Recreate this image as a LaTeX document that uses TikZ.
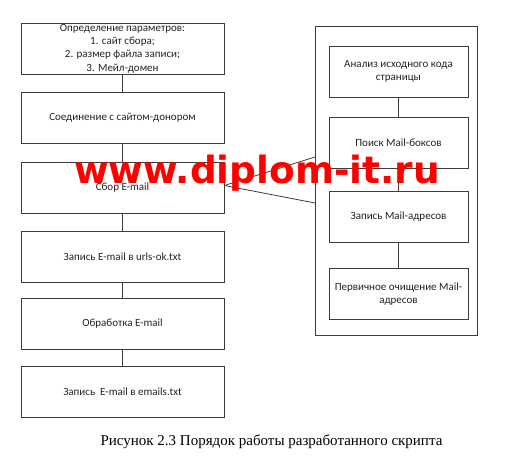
\documentclass[tikz,border=0pt]{standalone}
\usepackage{fontspec}
\setmainfont{Carlito}
\newfontfamily\capfont{Liberation Serif}
\newfontfamily\markfont{DejaVu Sans}
\usetikzlibrary{positioning}
\definecolor{LineGray}{RGB}{60,60,60}
\definecolor{TextGray}{RGB}{35,35,35}
\definecolor{MarkRed}{RGB}{255,0,0}

\begin{document}
\begin{tikzpicture}[x=1pt,y=-1pt,
    StepBox/.style={draw=LineGray,line width=0.8pt,minimum width=203pt,minimum height=51pt,
      inner sep=1pt,align=center,text=TextGray,font=\fontsize{11}{13.3}\selectfont},
    SubBox/.style={StepBox,minimum width=139pt},
    Link/.style={draw=LineGray,line width=0.8pt}]
  \useasboundingbox (0,0) rectangle (509,460);
          % main steps
          \node[StepBox,inner ysep=0pt] (params) at (122.5,48.5) {Определение параметров:\\1. сайт сбора;\\2. размер файла записи;\\3. Мейл-домен};
          \node[StepBox] (connect) at (122.5,117.5) {Соединение с сайтом-донором};
          \node[StepBox] (collect) at (122.5,187.5) {Сбор E-mail};
          \node[StepBox] (urls) at (122.5,256.5) {Запись E-mail в urls-ok.txt};
          \node[StepBox] (process) at (122.5,323.5) {Обработка E-mail};
          \node[StepBox] (emails) at (122.5,392) {Запись\ \ E-mail в emails.txt};
          \draw[Link] (params) -- (connect);
          \draw[Link] (connect) -- (collect);
          \draw[Link] (collect) -- (urls);
          \draw[Link] (urls) -- (process);
          \draw[Link] (process) -- (emails);
          % detail of collection
          \node[draw=LineGray,line width=0.8pt,minimum width=162pt,minimum height=309pt] (detail) at (396,180.5) {};
          \node[SubBox] (parse) at (398.5,71.5) {Анализ исходного кода\\страницы};
          \node[SubBox] (search) at (398.5,142.5) {Поиск Mail-боксов};
          \node[SubBox] (store) at (398.5,216.5) {Запись Mail-адресов};
          \node[SubBox] (clean) at (398.5,294) {Первичное очищение Mail-\\адресов};
          \draw[Link] (parse) -- (search);
          \draw[Link] (search) -- (store);
          \draw[Link] (store) -- (clean);
          % callout
          \coordinate (fanTop) at (315,157);
          \coordinate (fanBot) at (315,203);
          \draw[Link] ([yshift=2pt]collect.east) -- (fanTop);
          \draw[Link] ([yshift=2pt]collect.east) -- (fanBot);
          % caption
          \node[font=\capfont\fontsize{15}{18}\selectfont,anchor=base] (caption) at (271.5,445) {Рисунок 2.3 Порядок работы разработанного скрипта};
          % watermark
          \node[font=\markfont\bfseries\fontsize{37.5}{40}\selectfont,text=MarkRed,anchor=base west,inner sep=0pt] (mark) at (74,183) {www.diplom-it.ru};
\end{tikzpicture}
\end{document}
